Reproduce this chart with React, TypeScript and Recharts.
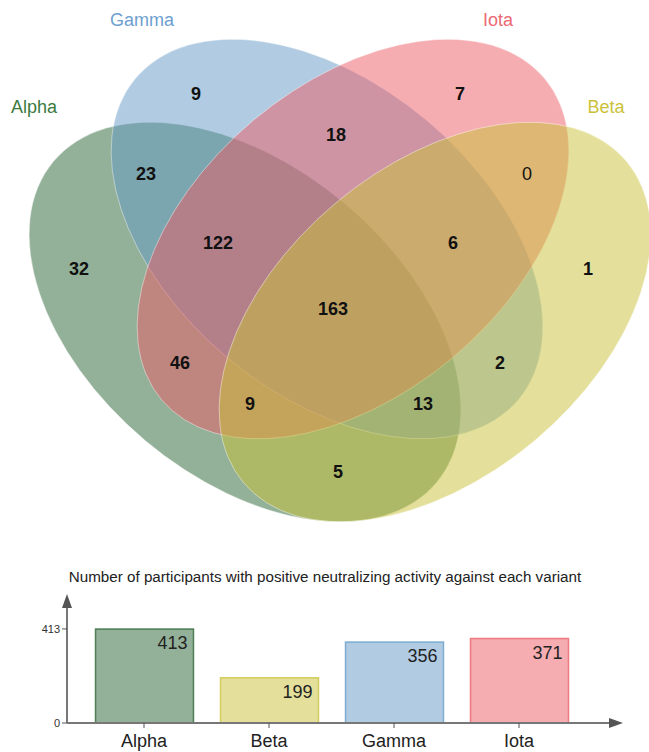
import { Bar, BarChart, Cell, LabelList, Scatter, ScatterChart, XAxis, YAxis } from "recharts";

// ---- data ----
const variants = ["Alpha", "Beta", "Gamma", "Iota"];
const positives = [413, 199, 356, 371];
const variantColors = ["#286232", "#c9c137", "#6399c5", "#eb5b65"];
const labelColors = ["#3b7a3f", "#cbc23a", "#6d9fd0", "#ec6874"];

// Venn regions: A=Alpha, B=Beta, G=Gamma, I=Iota
const regionSets = ["A", "B", "G", "I", "AG", "IB", "GI", "AGI", "GIB", "AGIB", "AI", "GB", "AIB", "AGB", "AB"];
const regionCounts = [32, 1, 9, 7, 23, 0, 18, 122, 6, 163, 46, 2, 9, 13, 5];

// ---- layout (venn drawn in a 649 x 540 unit space) ----
const VENN_W = 649;
const VENN_H = 540;
const RX = 250;
const RY = 155;
const ellipseLayout = [
  { v: 0, x: 245, y: 322, angle: 40 }, // Alpha
  { v: 2, x: 327, y: 239, angle: 40 }, // Gamma
  { v: 3, x: 353, y: 239, angle: -40 }, // Iota
  { v: 1, x: 435, y: 322, angle: -40 }, // Beta
];
const regionPos = [
  [79, 269], [588, 269], [196, 94], [460, 94], [146, 174], [527, 174], [336, 135],
  [218, 243], [453, 243], [333, 309], [180, 363], [500, 363], [250, 404], [423, 404], [338, 472],
];
const setLabelPos = [
  [34, 107], [606, 107], [142, 20], [498, 20],
];

const FONT = "'Liberation Sans', Arial, sans-serif";

const ellipseRows = ellipseLayout.map((e) => ({ ...e, color: variantColors[e.v] }));
const regionRows = regionCounts.map((c, i) => ({
  x: regionPos[i][0],
  y: regionPos[i][1],
  count: c,
  sets: regionSets[i],
}));
const setLabelRows = variants.map((n, i) => ({
  x: setLabelPos[i][0],
  y: setLabelPos[i][1],
  name: n,
  color: labelColors[i],
}));
const barRows = variants.map((n, i) => ({ name: n, value: positives[i] }));

const EllipseShape = (p: any) => {
  const { cx, cy, payload } = p;
  return (
    <ellipse
      cx={cx}
      cy={cy}
      rx={RX}
      ry={RY}
      transform={`rotate(${payload.angle} ${cx} ${cy})`}
      fill={payload.color}
      fillOpacity={0.5}
      stroke="#ffffff"
      strokeOpacity={0.5}
      strokeWidth={0.8}
    />
  );
};

const CountShape = (p: any) => {
  const { cx, cy, payload } = p;
  return (
    <text
      x={cx}
      y={cy}
      textAnchor="middle"
      dominantBaseline="central"
      fontFamily={FONT}
      fontSize={18}
      fontWeight={payload.count === 0 ? "normal" : "bold"}
      fill="#111"
    >
      {payload.count}
    </text>
  );
};

const SetLabelShape = (p: any) => {
  const { cx, cy, payload } = p;
  return (
    <text
      x={cx}
      y={cy}
      textAnchor="middle"
      dominantBaseline="central"
      fontFamily={FONT}
      fontSize={18}
      fill={payload.color}
    >
      {payload.name}
    </text>
  );
};

const ValueLabel = (p: any) => {
  const { x, y, width, value } = p;
  return (
    <text x={x + width - 6} y={y + 20} textAnchor="end" fontFamily={FONT} fontSize={18} fill="#222">
      {value}
    </text>
  );
};

export default function App() {
  return (
    <div style={{ position: "absolute", left: 0, top: 0, width: 649, height: 752, background: "#fff", fontFamily: FONT }}>
      <ScatterChart width={VENN_W} height={VENN_H} margin={{ top: 0, right: 0, bottom: 0, left: 0 }}>
        <XAxis type="number" dataKey="x" domain={[0, VENN_W]} hide />
        <YAxis type="number" dataKey="y" domain={[0, VENN_H]} reversed hide />
        <Scatter data={ellipseRows} shape={EllipseShape} isAnimationActive={false} />
        <Scatter data={regionRows} shape={CountShape} isAnimationActive={false} />
        <Scatter data={setLabelRows} shape={SetLabelShape} isAnimationActive={false} />
      </ScatterChart>

      <div style={{ position: "absolute", left: 0, top: 560 }}>
        <BarChart width={649} height={192} data={barRows} margin={{ top: 48, right: 39, bottom: 0, left: 0 }}>
          <XAxis
            dataKey="name"
            height={29}
            padding={{ left: 14.5, right: 28.5 }}
            axisLine={{ stroke: "#777", strokeWidth: 2 }}
            tickLine={{ stroke: "#555" }}
            tickSize={5}
            tickMargin={6}
            interval={0}
            tick={{ fill: "#222", fontSize: 18, fontFamily: FONT }}
          />
          <YAxis
            width={67}
            domain={[0, 505]}
            ticks={[0, 413]}
            axisLine={{ stroke: "#777", strokeWidth: 2 }}
            tickLine={{ stroke: "#555" }}
            tickSize={5}
            tickMargin={2}
            tick={{ fill: "#333", fontSize: 11, fontFamily: FONT }}
          />
          <Bar dataKey="value" barSize={98} isAnimationActive={false}>
            {barRows.map((_, i) => (
              <Cell key={i} fill={variantColors[i]} fillOpacity={0.5} stroke={variantColors[i]} strokeOpacity={0.75} strokeWidth={1.5} />
            ))}
            <LabelList dataKey="value" content={ValueLabel} />
          </Bar>
        </BarChart>
      </div>

      <svg width={649} height={752} style={{ position: "absolute", left: 0, top: 0, pointerEvents: "none" }}>
        <text x={325} y={582} textAnchor="middle" fontFamily={FONT} fontSize={15.2} fill="#222">
          Number of participants with positive neutralizing activity against each variant
        </text>
        <polygon points="67,594 62,608 72,608" fill="#555" />
        <polygon points="623,723 609,718 609,728" fill="#555" />
      </svg>
    </div>
  );
}
